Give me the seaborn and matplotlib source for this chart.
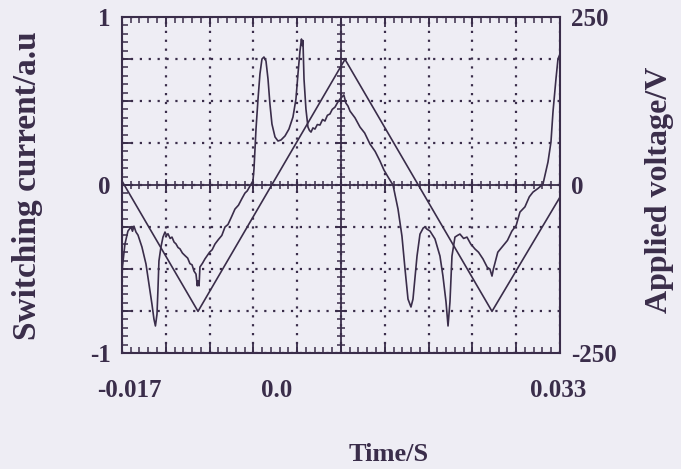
import numpy as np
import pandas as pd
import matplotlib
matplotlib.use("Agg")
import matplotlib.pyplot as plt
import seaborn as sns

# ---------------- data ----------------
time_current = [
    -0.01700, -0.01666, -0.01632, -0.01597, -0.01580, -0.01563, -0.01540, -0.01517,
    -0.01472, -0.01426, -0.01392, -0.01358, -0.01335, -0.01318, -0.01300, -0.01289,
    -0.01278, -0.01255, -0.01232, -0.01209, -0.01190, -0.01175, -0.01150, -0.01129,
    -0.01105, -0.01084, -0.01060, -0.01038, -0.01010, -0.00981, -0.00950, -0.00924,
    -0.00900, -0.00878, -0.00855, -0.00840, -0.00832, -0.00820, -0.00810, -0.00780,
    -0.00753, -0.00700, -0.00670, -0.00638, -0.00600, -0.00560, -0.00524, -0.00490,
    -0.00450, -0.00410, -0.00370, -0.00330, -0.00296, -0.00270, -0.00239, -0.00205,
    -0.00193, -0.00182, -0.00170, -0.00147, -0.00125, -0.00102, -0.00079, -0.00056,
    -0.00033, -0.00011, 0.00012, 0.00047, 0.00081, 0.00115, 0.00161, 0.00206,
    0.00252, 0.00286, 0.00309, 0.00332, 0.00349, 0.00357, 0.00366, 0.00378,
    0.00400, 0.00423, 0.00440, 0.00458, 0.00480, 0.00503, 0.00530, 0.00560,
    0.00590, 0.00617, 0.00645, 0.00674, 0.00700, 0.00732, 0.00760, 0.00789,
    0.00833, 0.00856, 0.00880, 0.00903, 0.00960, 0.01017, 0.01070, 0.01131,
    0.01190, 0.01245, 0.01290, 0.01337, 0.01394, 0.01451, 0.01496, 0.01531,
    0.01565, 0.01599, 0.01622, 0.01668, 0.01702, 0.01740, 0.01759, 0.01780,
    0.01816, 0.01873, 0.01930, 0.01964, 0.01999, 0.02022, 0.02044, 0.02067,
    0.02101, 0.02130, 0.02158, 0.02200, 0.02238, 0.02280, 0.02330, 0.02370,
    0.02421, 0.02470, 0.02500, 0.02524, 0.02540, 0.02590, 0.02649, 0.02700,
    0.02750, 0.02800, 0.02843, 0.02900, 0.02950, 0.02992, 0.03050, 0.03106,
    0.03163, 0.03197, 0.03220, 0.03254, 0.03277, 0.03300,
]
switching_current = [
    -0.512, -0.351, -0.274, -0.250, -0.275, -0.245, -0.280, -0.298,
    -0.369, -0.470, -0.589, -0.708, -0.798, -0.839, -0.768, -0.619,
    -0.452, -0.369, -0.310, -0.280, -0.300, -0.290, -0.318, -0.310,
    -0.340, -0.350, -0.372, -0.380, -0.405, -0.420, -0.435, -0.468,
    -0.475, -0.512, -0.530, -0.600, -0.571, -0.600, -0.488, -0.465,
    -0.440, -0.400, -0.385, -0.351, -0.325, -0.300, -0.250, -0.235,
    -0.190, -0.143, -0.120, -0.080, -0.048, -0.035, -0.006, 0.024,
    0.095, 0.214, 0.333, 0.512, 0.661, 0.750, 0.762, 0.738,
    0.631, 0.482, 0.363, 0.286, 0.262, 0.268, 0.292, 0.333,
    0.405, 0.512, 0.661, 0.798, 0.869, 0.830, 0.860, 0.631,
    0.452, 0.345, 0.325, 0.315, 0.340, 0.333, 0.360, 0.357,
    0.390, 0.381, 0.415, 0.423, 0.450, 0.464, 0.490, 0.512,
    0.536, 0.488, 0.470, 0.440, 0.400, 0.345, 0.310, 0.244,
    0.200, 0.143, 0.090, 0.048, 0.000, -0.143, -0.304, -0.500,
    -0.679, -0.726, -0.679, -0.423, -0.292, -0.255, -0.250, -0.262,
    -0.274, -0.321, -0.423, -0.542, -0.696, -0.839, -0.696, -0.423,
    -0.310, -0.300, -0.292, -0.318, -0.310, -0.350, -0.381, -0.400,
    -0.440, -0.490, -0.500, -0.542, -0.500, -0.400, -0.363, -0.330,
    -0.275, -0.240, -0.161, -0.130, -0.070, -0.042, -0.020, 0.006,
    0.137, 0.256, 0.435, 0.631, 0.750, 0.780,
]

time_voltage = [-0.01700, -0.00832, 0.00846, 0.02524, 0.03300]
applied_voltage = [6, -188, 187, -188, -18]

x_ticklabels = ["-0.017", "0.0", "0.033"]
x_tickvalues = [-0.017, 0.0, 0.033]

# ---------------- style ----------------
sns.set_theme(style="white")
plt.rcParams["font.family"] = ["Liberation Serif", "DejaVu Serif"]
plt.rcParams["font.weight"] = "bold"

ink = "#3a2d4a"
paper = "#eeedf4"

fig = plt.figure(figsize=(6.81, 4.69), dpi=100, facecolor=paper)
ax = fig.add_axes([0.1791, 0.2473, 0.6432, 0.7164])
ax.set_facecolor(paper)

df_i = pd.DataFrame({"t": time_current, "i": switching_current})
df_v = pd.DataFrame({"t": time_voltage, "v": applied_voltage})

sns.lineplot(data=df_i, x="t", y="i", ax=ax, color=ink, lw=1.2, sort=False,
             estimator=None)

ax.set_xlim(-0.017, 0.033)
ax.set_ylim(-1, 1)

xmaj = np.linspace(-0.017, 0.033, 11)
xmin = np.linspace(-0.017, 0.033, 51)
ymaj = np.linspace(-1, 1, 9)
ymin = np.linspace(-1, 1, 41)

ax.set_xticks(xmaj)
ax.set_xticklabels([""] * len(xmaj))
ax.set_xticks(xmin, minor=True)
ax.set_yticks(ymaj)
ax.set_yticklabels(["-1", "", "", "", "0", "", "", "", "1"])
ax.set_yticks(ymin, minor=True)
ax.xaxis.remove_overlapping_locs = False
ax.yaxis.remove_overlapping_locs = False

ax.tick_params(which="major", direction="in", length=7, width=1.3, color=ink,
               top=True, right=True, bottom=True, left=True,
               labelsize=18, labelcolor=ink, pad=8)
ax.tick_params(which="minor", direction="in", length=4, width=1.1, color=ink,
               top=True, right=True, bottom=True, left=True)
for lab in ax.get_yticklabels():
    lab.set_fontweight("bold")

ax.grid(True, which="major", linestyle=(0, (1, 3)), linewidth=1.6, color=ink)
for s in ax.spines.values():
    s.set_color(ink)
    s.set_linewidth(1.5)

# centre cross-hair with its own ticks
xc = 0.008
ax.axvline(xc, color=ink, lw=1.3)
ax.axhline(0, color=ink, lw=1.3)
dx_min, dx_maj = 0.00045, 0.0007
dy_min, dy_maj = 0.024, 0.038
ax.hlines(ymin, xc - dx_min, xc + dx_min, color=ink, lw=1.1)
ax.hlines(ymaj, xc - dx_maj, xc + dx_maj, color=ink, lw=1.3)
ax.vlines(xmin, -dy_min, dy_min, color=ink, lw=1.1)
ax.vlines(xmaj, -dy_maj, dy_maj, color=ink, lw=1.3)

# x tick labels (small pixel nudges to match the reference placement)
label_nudges_pt = [5, 4, -1]
for xv, xl, nd in zip(x_tickvalues, x_ticklabels, label_nudges_pt):
    ax.annotate(xl, xy=(xv, -0.113), xycoords=ax.get_xaxis_transform(),
                xytext=(nd, 0), textcoords="offset points", ha="center",
                va="center", fontsize=18, fontweight="bold", color=ink)

ax.set_xlabel("")
ax.set_ylabel("")

# voltage on twin axis
ax2 = ax.twinx()
sns.lineplot(data=df_v, x="t", y="v", ax=ax2, color=ink, lw=1.2, sort=False,
             estimator=None)
ax2.set_ylim(-250, 250)
ax2.set_yticks([-250, 0, 250])
ax2.set_yticklabels(["-250", "0", "250"])
ax2.tick_params(axis="y", length=0, labelsize=18, labelcolor=ink, pad=8)
for lab in ax2.get_yticklabels():
    lab.set_fontweight("bold")
ax2.set_ylabel("")
ax2.grid(False)
for s in ax2.spines.values():
    s.set_visible(False)

fig.text(0.040, 0.605, "Switching current/a.u", rotation=90, ha="center",
         va="center", fontsize=24, fontweight="bold", color=ink)
fig.text(0.969, 0.595, "Applied voltage/V", rotation=90, ha="center",
         va="center", fontsize=23, fontweight="bold", color=ink)
fig.text(0.571, 0.030, "Time/S", ha="center", va="center", fontsize=19,
         fontweight="bold", color=ink)

fig.savefig("out.png", dpi=100, facecolor=paper)
